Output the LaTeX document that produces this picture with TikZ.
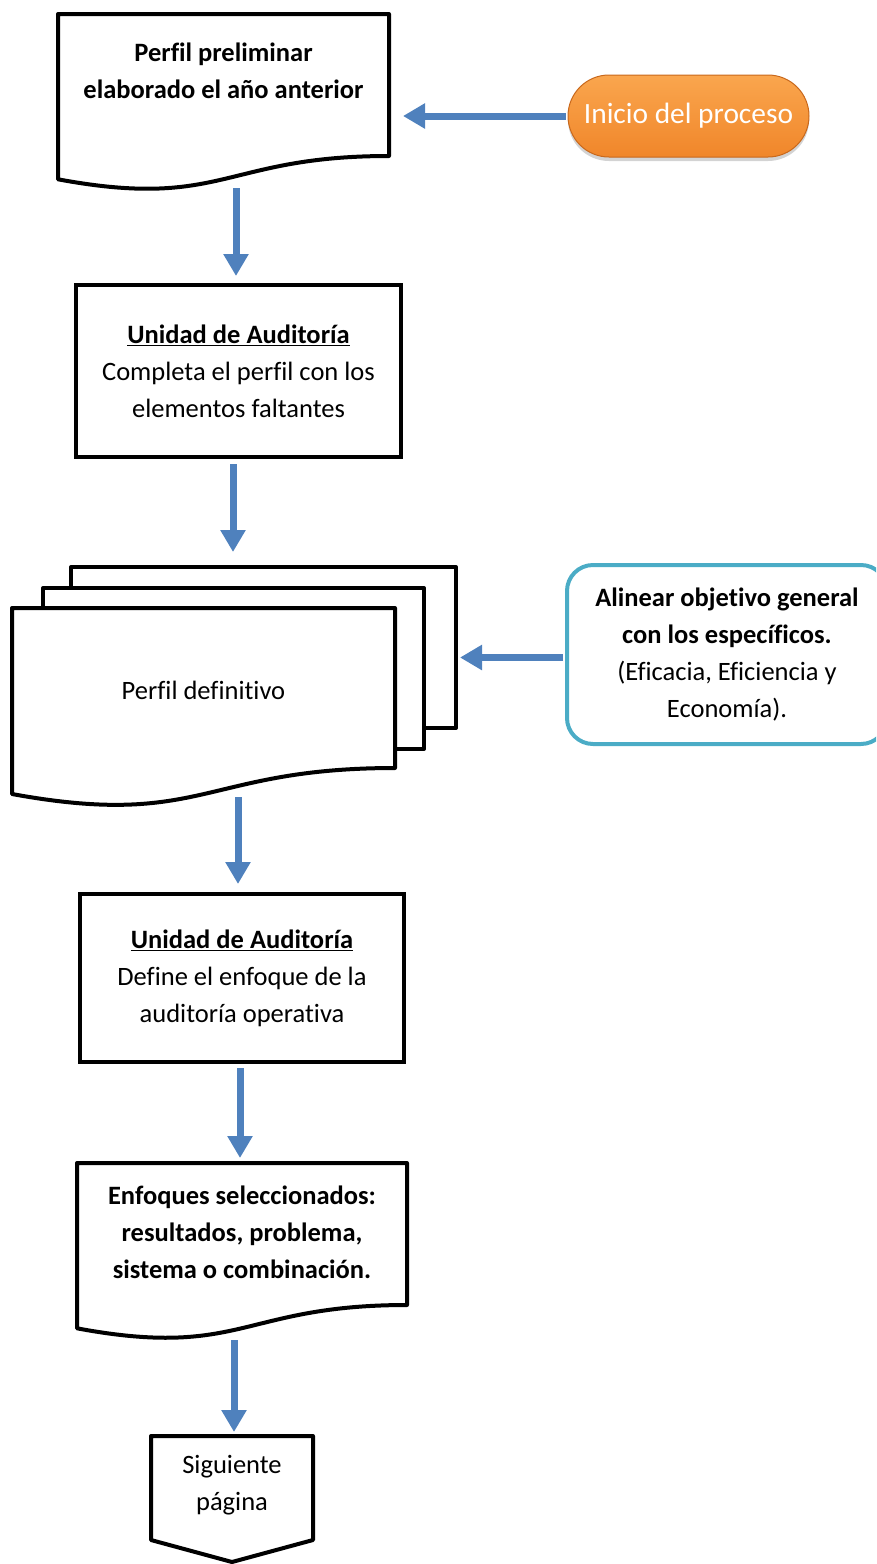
\documentclass[tikz,border=0pt]{standalone}
\usepackage{fontspec}
\setmainfont{Carlito}[Ligatures=NoCommon]
\usetikzlibrary{arrows.meta,shadows}
\definecolor{arrblue}{HTML}{4F81BD}
\definecolor{cyanline}{HTML}{4BACC6}
\definecolor{orangeA}{HTML}{FAA64E}
\definecolor{orangeB}{HTML}{F0862A}
\definecolor{orangeD}{HTML}{C8681C}
\begin{document}
\begin{tikzpicture}[x=1pt,y=-1pt,
  shapeline/.style={draw=black,line width=4pt,line join=round,fill=white},
  arr/.style={draw=arrblue,line width=7pt,-{Triangle[width=24pt,length=22pt]}},
  ghost/.style={draw=none,inner sep=0pt,outer sep=0pt,rectangle},
  txt/.style={align=center,inner sep=0pt,font=\fontsize{26.5}{37}\selectfont},
  boxnode/.style={draw=black,line width=4pt,rectangle,inner sep=0pt,align=center,font=\fontsize{26.5}{37}\selectfont},
]
\useasboundingbox (0,0) rectangle (876,1564);
\clip (0,0) rectangle (876,1564);

% --- shapes ---
% document 1
\draw[shapeline] (58,14) -- (389,14) -- (389,156) .. controls (223.5,156) and (223.5,210) .. (58,179.3) -- cycle;
\node[ghost,minimum width=331pt,minimum height=175pt] (d1) at (223.5,101.5) {};
\node[txt] (t1) at (223.5,71) {\textbf{Perfil preliminar}\\\textbf{elaborado el año anterior}};

% start terminator
\node[rectangle,rounded corners=41pt,minimum width=241pt,minimum height=82pt,
      top color=orangeA,bottom color=orangeB,draw=orangeD,line width=1pt,
      drop shadow={opacity=0.35,shadow xshift=0pt,shadow yshift=-4pt},
      text=white,font=\fontsize{29.4}{34}\selectfont,inner sep=0pt] (start) at (688.5,116) {Inicio del proceso};

% box 2
\node[boxnode,minimum width=325pt,minimum height=172pt] (b2) at (238.5,371)
  {\underline{\textbf{Unidad de Auditoría}}\\Completa el perfil con los\\elementos faltantes};

% multidocument
\filldraw[shapeline] (71,567) rectangle (456,728);
\filldraw[shapeline] (43,588) rectangle (424,749);
\draw[shapeline] (12,608) -- (395,608) -- (395,768) .. controls (203.5,768) and (203.5,829) .. (12,794) -- cycle;
\node[ghost,minimum width=444pt,minimum height=238pt] (md) at (234,686) {};
\node[txt] (tmd) at (203.5,690) {Perfil definitivo};

% alinear box
\node[draw=cyanline,line width=4pt,rounded corners=26pt,minimum width=320pt,minimum height=179pt,
      inner sep=0pt,align=center,font=\fontsize{26.5}{37}\selectfont] (al) at (727,654.5)
  {\textbf{Alinear objetivo general}\\\textbf{con los específicos.}\\(Eficacia, Eficiencia y\\Economía).};

% box 3
\node[boxnode,minimum width=324pt,minimum height=168pt] (b3) at (242,978)
  {\underline{\textbf{Unidad de Auditoría}}\\Define el enfoque de la\\auditoría operativa};

% document 3
\draw[shapeline] (77,1163) -- (407,1163) -- (407,1305) .. controls (242,1305) and (242,1359) .. (77,1328.3) -- cycle;
\node[ghost,minimum width=330pt,minimum height=175pt] (d3) at (242,1250.5) {};
\node[txt] (t3) at (242,1232) {\textbf{Enfoques seleccionados:}\\\textbf{resultados, problema,}\\\textbf{sistema o combinación.}};

% off-page connector
\draw[shapeline] (151,1436) -- (313,1436) -- (313,1540) -- (232,1562) -- (151,1540) -- cycle;
\node[ghost,minimum width=162pt,minimum height=126pt] (pg) at (232,1499) {};
\node[txt] (tpg) at (232,1485) {Siguiente\\página};

% --- connectors ---
\draw[arr,shorten <=2pt,shorten >=14pt] (start.west) -- (start.west -| d1.east);
\draw[arr] ([xshift=12.5pt,yshift=1pt]d1.south) -- ([xshift=-2.5pt,yshift=7pt]b2.north);
\draw[arr] ([xshift=-5.5pt,yshift=-5pt]b2.south) -- ([xshift=-1pt,yshift=15pt]md.north);
\draw[arr,shorten <=2pt,shorten >=4pt] ([yshift=-3pt]al.west) -- ([yshift=-3pt]al.west -| md.east);
\draw[arr] ([xshift=4pt,yshift=8pt]md.south) -- ([xshift=-4pt,yshift=8pt]b3.north);
\draw[arr] ([xshift=-2pt,yshift=-4pt]b3.south) -- ([xshift=-2pt,yshift=5pt]d3.north);
\draw[arr] ([xshift=-8pt,yshift=-2pt]d3.south) -- ([xshift=2pt,yshift=4pt]pg.north);
\end{tikzpicture}
\end{document}
